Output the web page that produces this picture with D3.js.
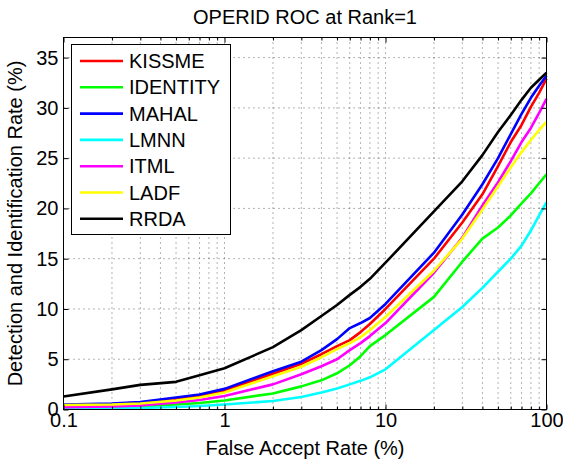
<!DOCTYPE html>
<html>
<head>
<meta charset="utf-8">
<script src="https://cdn.jsdelivr.net/npm/d3@7"></script>
<style>
  body { margin: 0; background: #fff; }
  text { font-family: "Liberation Sans", Arial, Helvetica, sans-serif; fill: #000; }
</style>
</head>
<body>
<div id="chart"></div>
<script>
// False accept rates (%) where the curves are sampled
var farValues = [0.1, 0.2, 0.3, 0.5, 0.7, 1, 2, 3, 4, 5, 6, 7, 8, 10, 20, 30, 40, 50, 60, 70, 80, 90, 100];

// Detection and identification rate (%) per method
var kissme   = [0.45, 0.55, 0.7, 1.05, 1.4, 1.9, 3.55, 4.55, 5.5, 6.3, 6.9, 7.7, 8.5, 10.0, 15.0, 18.6, 21.4, 24.2, 26.6, 28.3, 30.1, 31.5, 32.9];
var identity = [0.15, 0.2, 0.3, 0.5, 0.65, 0.9, 1.6, 2.3, 2.9, 3.6, 4.4, 5.3, 6.3, 7.4, 11.2, 14.7, 17.0, 18.1, 19.3, 20.5, 21.5, 22.5, 23.4];
var mahal    = [0.5, 0.6, 0.75, 1.2, 1.5, 2.05, 3.8, 4.75, 5.9, 7.0, 8.1, 8.6, 9.1, 10.5, 15.6, 19.4, 22.4, 25.0, 27.4, 29.4, 31.0, 32.2, 33.2];
var lmnn     = [0.08, 0.1, 0.15, 0.25, 0.35, 0.5, 0.85, 1.25, 1.7, 2.1, 2.5, 2.85, 3.2, 4.0, 7.9, 10.2, 12.1, 13.7, 15.0, 16.3, 17.8, 19.3, 20.6];
var itml     = [0.22, 0.3, 0.4, 0.7, 0.95, 1.35, 2.5, 3.5, 4.3, 5.0, 5.9, 6.6, 7.3, 8.6, 13.6, 17.1, 20.3, 22.6, 24.7, 26.6, 28.0, 29.5, 30.9];
var ladf     = [0.45, 0.5, 0.6, 0.9, 1.2, 1.7, 3.3, 4.25, 5.2, 6.0, 6.6, 7.2, 7.9, 9.2, 13.8, 17.0, 19.9, 22.2, 24.1, 25.6, 26.8, 27.8, 28.6];
var rrda     = [1.3, 2.0, 2.45, 2.75, 3.4, 4.1, 6.2, 7.9, 9.3, 10.4, 11.4, 12.2, 13.0, 14.6, 19.7, 22.7, 25.3, 27.6, 29.3, 30.8, 32.0, 32.8, 33.5];

var seriesNames = ["KISSME", "IDENTITY", "MAHAL", "LMNN", "ITML", "LADF", "RRDA"];
var seriesValues = [kissme, identity, mahal, lmnn, itml, ladf, rrda];
var seriesColors = ["#ff0000", "#00ff00", "#0000ff", "#00ffff", "#ff00ff", "#ffff00", "#000000"];

// Axis ticks
var xTickValues = [0.1, 1, 10, 100];
var xTickLabels = ["0.1", "1", "10", "100"];
var xMinorValues = [0.2, 0.3, 0.4, 0.5, 0.6, 0.7, 0.8, 0.9, 2, 3, 4, 5, 6, 7, 8, 9, 20, 30, 40, 50, 60, 70, 80, 90];
var yTickValues = [0, 5, 10, 15, 20, 25, 30, 35];

// Step 1: chart size
var svgWidth = 563;
var svgHeight = 459;
var margin = { top: 37.5, right: 16.5, bottom: 49.5, left: 63.5 };
var width = svgWidth - margin.left - margin.right;
var height = svgHeight - margin.top - margin.bottom;

var svg = d3.select("#chart")
  .append("svg")
  .attr("width", svgWidth)
  .attr("height", svgHeight);

var chartGroup = svg.append("g")
  .attr("transform", `translate(${margin.left}, ${margin.top})`);

// Step 2: scales
var xLogScale = d3.scaleLog()
  .domain([0.1, 100])
  .range([0, width]);

var yLinearScale = d3.scaleLinear()
  .domain([0, 37])
  .range([height, 0]);

// Step 3: dotted grid
var gridGroup = chartGroup.append("g");
gridGroup.selectAll("line.vgrid")
  .data(xTickValues.concat(xMinorValues))
  .enter()
  .append("line")
  .attr("x1", d => xLogScale(d))
  .attr("x2", d => xLogScale(d))
  .attr("y1", 0)
  .attr("y2", height)
  .attr("stroke", "#000")
  .attr("stroke-opacity", 0.6)
  .attr("stroke-dasharray", "1,4");

gridGroup.selectAll("line.hgrid")
  .data(yTickValues)
  .enter()
  .append("line")
  .attr("x1", 0)
  .attr("x2", width)
  .attr("y1", d => yLinearScale(d))
  .attr("y2", d => yLinearScale(d))
  .attr("stroke", "#000")
  .attr("stroke-opacity", 0.6)
  .attr("stroke-dasharray", "1,4");

// Step 4: curves
var line = d3.line()
  .x((d, i) => xLogScale(farValues[i]))
  .y(d => yLinearScale(d));

chartGroup.selectAll("path.curve")
  .data(seriesValues)
  .enter()
  .append("path")
  .attr("class", "curve")
  .attr("d", d => line(d))
  .attr("fill", "none")
  .attr("stroke", (d, i) => seriesColors[i])
  .attr("stroke-width", 2.6)
  .attr("stroke-linejoin", "round");

// Step 5: axes with inward ticks on all four sides
function styleAxis(g) {
  g.select(".domain").remove();
  g.selectAll("line").attr("stroke", "#000");
  g.selectAll("text").attr("font-size", "20px").attr("font-family", null);
}

chartGroup.append("g")
  .attr("transform", `translate(0, ${height})`)
  .call(d3.axisBottom(xLogScale)
    .tickValues(xTickValues)
    .tickFormat((d, i) => xTickLabels[i])
    .tickSizeInner(-5).tickSizeOuter(0).tickPadding(3))
  .call(styleAxis);

chartGroup.append("g")
  .attr("transform", `translate(0, ${height})`)
  .call(d3.axisBottom(xLogScale)
    .tickValues(xMinorValues)
    .tickFormat("")
    .tickSizeInner(-3).tickSizeOuter(0))
  .call(styleAxis);

chartGroup.append("g")
  .call(d3.axisTop(xLogScale)
    .tickValues(xTickValues)
    .tickFormat("")
    .tickSizeInner(-5).tickSizeOuter(0))
  .call(styleAxis);

chartGroup.append("g")
  .call(d3.axisTop(xLogScale)
    .tickValues(xMinorValues)
    .tickFormat("")
    .tickSizeInner(-3).tickSizeOuter(0))
  .call(styleAxis);

chartGroup.append("g")
  .call(d3.axisLeft(yLinearScale)
    .tickValues(yTickValues)
    .tickSizeInner(-5).tickSizeOuter(0).tickPadding(5))
  .call(styleAxis);

chartGroup.append("g")
  .attr("transform", `translate(${width}, 0)`)
  .call(d3.axisRight(yLinearScale)
    .tickValues(yTickValues)
    .tickFormat("")
    .tickSizeInner(-5).tickSizeOuter(0))
  .call(styleAxis);

// box
chartGroup.append("rect")
  .attr("x", 0)
  .attr("y", 0)
  .attr("width", width)
  .attr("height", height)
  .attr("fill", "none")
  .attr("stroke", "#000")
  .attr("stroke-width", 1);

// Step 6: legend
var legendGroup = svg.append("g")
  .attr("transform", "translate(71.5, 44.5)");

legendGroup.append("rect")
  .attr("width", 159)
  .attr("height", 190)
  .attr("fill", "#fff")
  .attr("stroke", "#000");

var legendRows = legendGroup.selectAll("g.row")
  .data(seriesNames)
  .enter()
  .append("g")
  .attr("transform", (d, i) => `translate(0, ${16.5 + i * 26.3})`);

legendRows.append("line")
  .attr("x1", 8.5)
  .attr("x2", 51.5)
  .attr("stroke", (d, i) => seriesColors[i])
  .attr("stroke-width", 2.6);

legendRows.append("text")
  .attr("x", 57.5)
  .attr("dy", "0.35em")
  .attr("font-size", "20px")
  .text(d => d);

// Step 7: title and axis labels
svg.append("text")
  .attr("x", margin.left + width / 2)
  .attr("y", 23.5)
  .attr("text-anchor", "middle")
  .attr("font-size", "20px")
  .text("OPERID ROC at Rank=1");

svg.append("text")
  .attr("x", margin.left + width / 2)
  .attr("y", 455)
  .attr("text-anchor", "middle")
  .attr("font-size", "20px")
  .text("False Accept Rate (%)");

svg.append("text")
  .attr("transform", "rotate(-90)")
  .attr("x", -(margin.top + height / 2))
  .attr("y", 22)
  .attr("text-anchor", "middle")
  .attr("font-size", "20px")
  .text("Detection and Identification Rate (%)");
</script>
</body>
</html>
